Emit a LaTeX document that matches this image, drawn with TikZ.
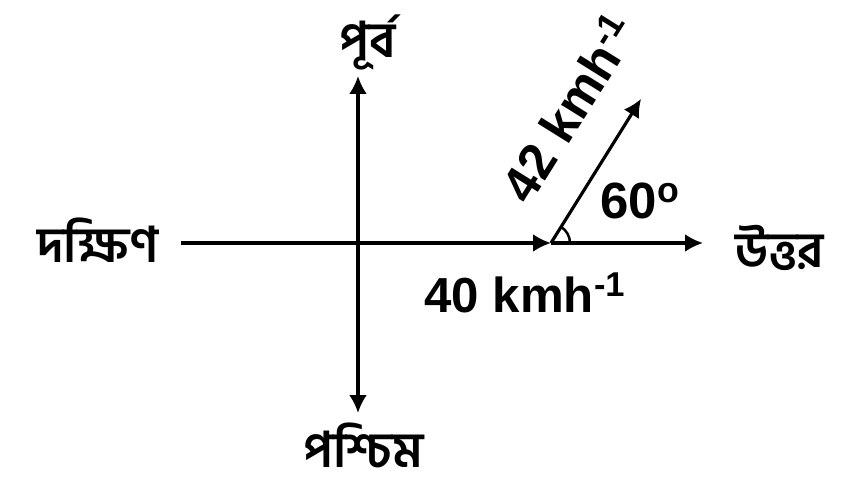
\documentclass[tikz,border=0pt]{standalone}
\usepackage{fontspec}
\setmainfont{Liberation Sans}
\newfontfamily\bnfont[Script=Bengali]{Hind Siliguri}
\usetikzlibrary{arrows.meta,angles,calc}

\begin{document}
\begin{tikzpicture}[
  x=0.02cm, y=0.02cm,
  >={Latex[length=0.36cm,width=0.36cm]},
  axisline/.style={line width=1.8pt},
  vec/.style={->, line width=1.8pt},
  dirlabel/.style={font=\bnfont\bfseries\fontsize{28}{30}\selectfont, inner sep=0pt},
  vallabel/.style={font=\bfseries\fontsize{28}{30}\selectfont, inner sep=0pt},
]
\useasboundingbox (0,0) rectangle (866,491);

% Axes points
\coordinate (O) at (358, 248);
\coordinate (L) at (181, 248);
\coordinate (P) at (551, 248);
\coordinate (E) at (703, 248);
\coordinate (T) at (358, 415);
\coordinate (B) at (358, 78);
\coordinate (Q) at ($(P)+(58:170)$);

% Direction labels
\node[dirlabel] (purba)   at (368, 449) {পূর্ব};
\node[dirlabel] (paschim) at (363,  46) {পশ্চিম};
\node[dirlabel] (dakshin) at ( 98, 251) {দক্ষিণ};
\node[dirlabel] (uttar)   at (780, 243) {উত্তর};

% Values
\node[vallabel] (v40) at (525, 198) {40 kmh\textsuperscript{-1}};
\node[vallabel, font=\bfseries\fontsize{29}{30}\selectfont, rotate=58] (v42) at (568, 383) {42 kmh\textsuperscript{-1}};
\node[vallabel, font=\bfseries\fontsize{29}{30}\selectfont] (ang) at (640, 290) {60\textsuperscript{o}};

% --- arrows ---
\draw[axisline, <->] (B) -- (T);
\draw[vec] (L) -- (P);
\draw[vec] (P) -- (E);
\draw[vec] (P) -- (Q);
\pic[draw, line width=1.4pt, angle radius=0.38cm] {angle=E--P--Q};

\end{tikzpicture}
\end{document}
